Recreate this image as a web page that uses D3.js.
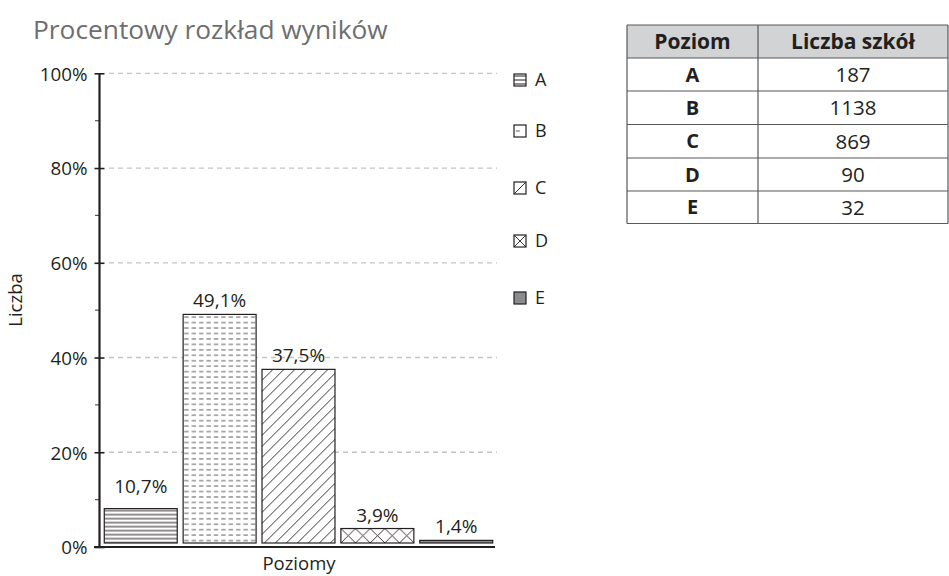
<!DOCTYPE html>
<html><head><meta charset="utf-8">
<script src="https://cdn.jsdelivr.net/npm/d3@7"></script>
<style>
html,body{margin:0;padding:0;background:#fff;}
svg{display:block;font-family:"Open Sans",sans-serif;}
</style></head>
<body><svg id="c" width="949" height="576"></svg>
<script>
// ---- data ----
const categories = ["A","B","C","D","E"];
const counts = [187, 1138, 869, 90, 32];
const barPercents = [8.1, 49.1, 37.5, 3.9, 1.4];
const labelPercents = [10.7, 49.1, 37.5, 3.9, 1.4];
const labelTexts = ["10,7%","49,1%","37,5%","3,9%","1,4%"];
const yTicks = [0,20,40,60,80,100];
const yMinorTicks = [10,30,50,70,90];
const tableHeader = ["Poziom","Liczba szkół"];
const titleText = "Procentowy rozkład wyników";

const svg = d3.select("#c");
const ink = "#231f20";
const defs = svg.append("defs");

const y = d3.scaleLinear().domain([0,100]).range([547,73.3]);
const x = d3.scaleBand().domain(categories).range([101.5,495.5]).paddingInner(0.075).paddingOuter(0.035);

// title
svg.append("text").attr("x",33).attr("y",39).attr("font-size",26.3).attr("fill","#6d6e71").text(titleText);

// grid
svg.append("g").selectAll("line").data(yTicks.filter(d=>d>0)).join("line")
  .attr("x1",109).attr("x2",497).attr("y1",d=>y(d)).attr("y2",d=>y(d))
  .attr("stroke","#c2c4c6").attr("stroke-width",1.3).attr("stroke-dasharray","5,4");

// y axis
const ya = svg.append("g").attr("transform","translate(99.5,0)")
  .call(d3.axisLeft(y).tickValues(yTicks).tickSize(5).tickPadding(7).tickFormat(d=>d+"%"));
ya.select(".domain").remove();
ya.selectAll(".tick line").attr("x1",5).attr("stroke",ink).attr("stroke-width",1.6);
ya.selectAll(".tick text").attr("font-family","Open Sans").attr("font-size",18.8).attr("fill",ink).attr("dy","0.36em");
ya.selectAll(".minor").data(yMinorTicks).join("line").attr("class","minor")
  .attr("x1",-4.5).attr("x2",0).attr("y1",d=>y(d)).attr("y2",d=>y(d)).attr("stroke","#555").attr("stroke-width",1.2);
ya.append("line").attr("x1",0).attr("x2",0).attr("y1",y(100)).attr("y2",y(0)+1).attr("stroke",ink).attr("stroke-width",2.2);

// x axis line
svg.append("line").attr("x1",94).attr("x2",495).attr("y1",y(0)).attr("y2",y(0)).attr("stroke",ink).attr("stroke-width",2.2);

// patterns
function makePatterns(prefix, geom){
  categories.forEach((c,i)=>{
    const g = geom(i);
    const p = defs.append("pattern").attr("id",prefix+c).attr("patternUnits","userSpaceOnUse")
      .attr("x",g.x).attr("y",g.y);
    if(c==="A"){
      const w=g.aw||8, h=g.ah||4;
      p.attr("width",w).attr("height",h);
      p.append("rect").attr("width",w).attr("height",h).attr("fill","#fff");
      p.append("line").attr("x1",0).attr("x2",w).attr("y1",h/2).attr("y2",h/2).attr("stroke",ink).attr("stroke-width",1);
    } else if(c==="B"){
      const w=g.bw||7.4, h=g.bh||5.45;
      p.attr("width",w).attr("height",h);
      p.append("rect").attr("width",w).attr("height",h).attr("fill","#fff");
      p.append("line").attr("x1",w*0.15).attr("x2",w*0.15+(g.bd||4.4)).attr("y1",h/2).attr("y2",h/2).attr("stroke","#333").attr("stroke-width",0.8);
    } else if(c==="C"){
      const s=g.cs||11;
      p.attr("width",s).attr("height",s);
      p.append("rect").attr("width",s).attr("height",s).attr("fill","#fff");
      p.append("path").attr("d",`M0,${s} L${s},0 M-2,2 L2,-2 M${s-2},${s+2} L${s+2},${s-2}`).attr("stroke",ink).attr("stroke-width",0.9);
    } else if(c==="D"){
      const w=g.dw||14.65, h=g.dh||15.3;
      p.attr("width",w).attr("height",h);
      p.append("rect").attr("width",w).attr("height",h).attr("fill","#fff");
      p.append("path").attr("d",`M0,0 L${w},${h} M${w},0 L0,${h}`).attr("stroke",ink).attr("stroke-width",0.9);
    } else {
      p.attr("width",4).attr("height",4);
      p.append("rect").attr("width",4).attr("height",4).attr("fill","#8a8b8d");
    }
  });
}
const barBottom = y(0)-4;
makePatterns("bar", i=>({x:x(categories[i]), y:y(barPercents[i]), dh: barBottom-y(barPercents[i])}));

// bars
svg.append("g").selectAll("rect").data(categories).join("rect")
  .attr("x",d=>x(d)).attr("width",x.bandwidth())
  .attr("y",(d,i)=>y(barPercents[i])).attr("height",(d,i)=>Math.max(0,barBottom-y(barPercents[i])))
  .attr("fill",d=>"url(#bar"+d+")").attr("stroke",ink).attr("stroke-width",1.2);

// bar labels
svg.append("g").selectAll("text").data(categories).join("text")
  .attr("x",d=>x(d)+x.bandwidth()/2)
  .attr("y",(d,i)=>Math.min(y(barPercents[i])-7, y(labelPercents[i])-3))
  .attr("text-anchor","middle").attr("font-size",19).attr("fill",ink)
  .text((d,i)=>labelTexts[i]);

// axis titles
svg.append("text").attr("transform","translate(22,300) rotate(-90)").attr("text-anchor","middle")
  .attr("font-size",18.5).attr("fill",ink).text("Liczba");
svg.append("text").attr("x",299).attr("y",569.5).attr("text-anchor","middle")
  .attr("font-size",18.5).attr("fill",ink).text("Poziomy");

// legend
const legendY = [80,131,188,241,298];
const sw = 12;
makePatterns("leg", i=>({x:514, y:legendY[i]-sw/2, aw:sw, ah:sw/3, bw:sw, bh:sw, bd:4, cs:sw, dw:sw, dh:sw}));
const lg = svg.append("g");
categories.forEach((c,i)=>{
  lg.append("rect").attr("x",514).attr("y",legendY[i]-sw/2).attr("width",sw).attr("height",sw)
    .attr("fill","url(#leg"+c+")").attr("stroke",ink).attr("stroke-width",1.2);
  lg.append("text").attr("x",535).attr("y",legendY[i]).attr("dy","0.36em")
    .attr("font-size",18).attr("fill",ink).text(c);
});

// table
const tx = [627, 758, 948];
const rowY = [25, 58, 91, 124.5, 158, 191, 223.5];
const tg = svg.append("g");
tg.append("rect").attr("x",tx[0]).attr("y",rowY[0]).attr("width",tx[2]-tx[0]).attr("height",rowY[1]-rowY[0]).attr("fill","#d1d3d4");
const rows = [tableHeader].concat(categories.map((c,i)=>[c, String(counts[i])]));
rows.forEach((r,ri)=>{
  r.forEach((cell,ci)=>{
    tg.append("text").attr("x",(tx[ci]+tx[ci+1])/2).attr("y",(rowY[ri]+rowY[ri+1])/2).attr("dy","0.36em")
      .attr("text-anchor","middle").attr("font-size",ri===0?21:(ci===0?20:20.5)).attr("fill",ink)
      .attr("font-weight",(ri===0||ci===0)?700:400).text(cell);
  });
});
rowY.forEach(yy=>tg.append("line").attr("x1",tx[0]).attr("x2",tx[2]).attr("y1",yy).attr("y2",yy).attr("stroke","#58595b").attr("stroke-width",1.2));
tx.forEach(xx=>tg.append("line").attr("x1",xx).attr("x2",xx).attr("y1",rowY[0]).attr("y2",rowY[rowY.length-1]).attr("stroke","#58595b").attr("stroke-width",1.2));
</script></body></html>
